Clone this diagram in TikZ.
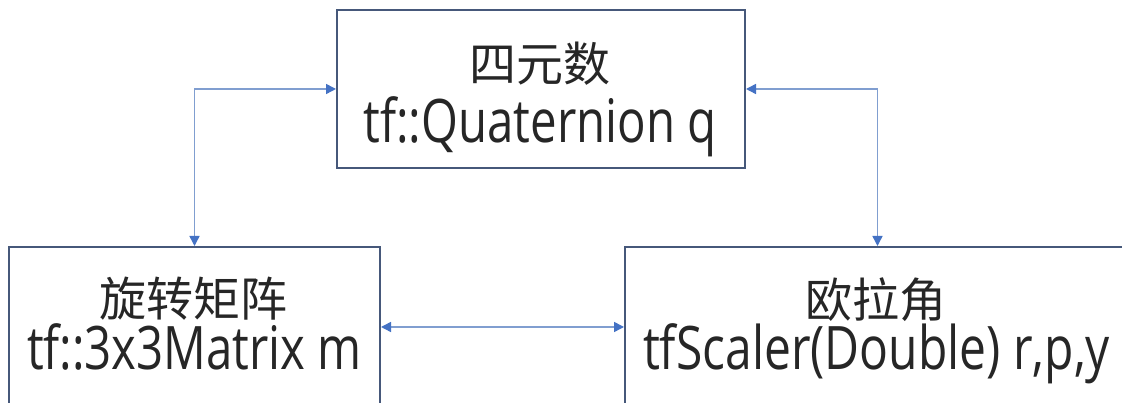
\documentclass[tikz,border=0pt]{standalone}
\usepackage{graphicx}
\usepackage{fontspec}
\setmainfont{Open Sans}
\newfontfamily\cjk{Noto Sans CJK SC}
\usetikzlibrary{arrows.meta}
\definecolor{boxcol}{RGB}{70,88,122}
\definecolor{linecol}{RGB}{128,158,208}
\definecolor{headcol}{RGB}{68,114,196}
\newsavebox\fitbox
\newlength\fitlen
\newcommand\fitw[2]{\sbox\fitbox{#2}\setlength\fitlen{\wd\fitbox}\pgfmathsetmacro\fitfac{#1/\fitlen}\scalebox{\fitfac}[1]{\usebox\fitbox}}
\begin{document}
\begin{tikzpicture}[x=1pt,y=1pt,
  box/.style={draw=boxcol, line width=2pt, inner sep=0pt},
  zh/.style={inner sep=0pt, font=\cjk\fontsize{47}{50}\selectfont, text=black!85},
  en/.style={inner sep=0pt, anchor=base, font=\fontsize{60}{64}\selectfont, text=black!85},
  link/.style={draw=linecol, line width=1.5pt, {Triangle[length=10pt,width=10pt,color=headcol]}-{Triangle[length=10pt,width=10pt,color=headcol]}}]
\useasboundingbox (0,0) rectangle (1122,403);
\clip (0,0) rectangle (1122,403);
\fill[white] (0,0) rectangle (1122,403);
\node[box, minimum width=408pt, minimum height=158pt] (q) at (541,314) {};
\node[box, minimum width=371pt, minimum height=160pt] (m) at (194.5,76) {};
\node[box, minimum width=505pt, minimum height=160pt] (e) at (877.5,76) {};
\node[zh] (qzh) at (540,339.5) {四元数};
\node[en] (qen) at (540,260) {\fitw{353pt}{tf::Quaternion q}};
\node[zh] (mzh) at (193.5,104.5) {旋转矩阵};
\node[en] (men) at (194.5,33) {\fitw{335pt}{tf::3x3Matrix m}};
\node[zh] (ezh) at (875.5,103) {欧拉角};
\node[en] (een) at (876.5,33) {\fitw{467pt}{tfScaler(Double) r,p,y}};
\draw[link] (q.west) -| (m.north);
\draw[link] (q.east) -| (e.north);
\draw[link] (m.east) -- (e.west);
\end{tikzpicture}
\end{document}
